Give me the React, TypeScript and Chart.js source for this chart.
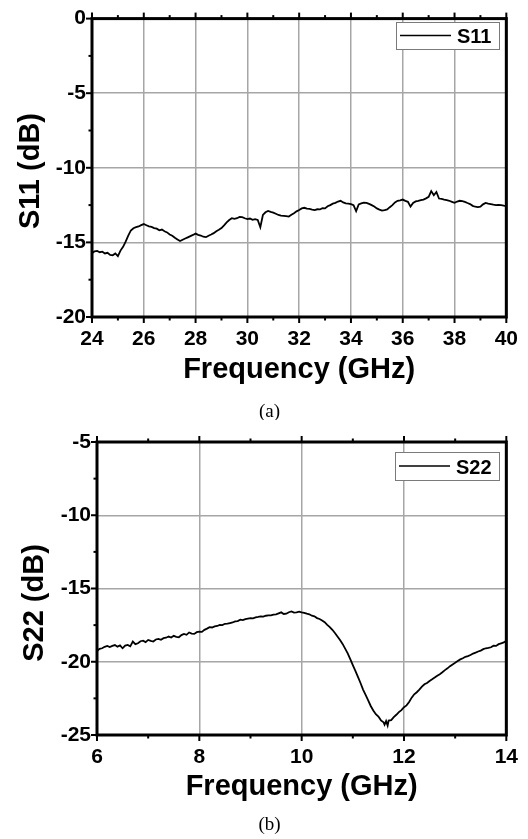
import { useEffect, useRef } from "react";
import { Chart, registerables } from "chart.js";

Chart.register(...registerables);

// ---------- Data: panel (a) S11 ----------
const s11Freq = [
  24.0, 24.1, 24.2, 24.3, 24.4, 24.5, 24.6, 24.7, 24.8, 24.9,
  25.0, 25.1, 25.2, 25.3, 25.4, 25.5, 25.6, 25.7, 25.8, 25.9,
  26.0, 26.1, 26.2, 26.3, 26.4, 26.5, 26.6, 26.7, 26.8, 26.9,
  27.0, 27.1, 27.2, 27.3, 27.4, 27.5, 27.6, 27.7, 27.8, 27.9,
  28.0, 28.1, 28.2, 28.3, 28.4, 28.5, 28.6, 28.7, 28.8, 28.9,
  29.0, 29.1, 29.2, 29.3, 29.4, 29.5, 29.6, 29.7, 29.8, 29.9,
  30.0, 30.1, 30.2, 30.3, 30.4, 30.5, 30.6, 30.7, 30.8, 30.9,
  31.0, 31.1, 31.2, 31.3, 31.4, 31.5, 31.6, 31.7, 31.8, 31.9,
  32.0, 32.1, 32.2, 32.3, 32.4, 32.5, 32.6, 32.7, 32.8, 32.9,
  33.0, 33.1, 33.2, 33.3, 33.4, 33.5, 33.6, 33.7, 33.8, 33.9,
  34.0, 34.1, 34.2, 34.3, 34.4, 34.5, 34.6, 34.7, 34.8, 34.9,
  35.0, 35.1, 35.2, 35.3, 35.4, 35.5, 35.6, 35.7, 35.8, 35.9,
  36.0, 36.1, 36.2, 36.3, 36.4, 36.5, 36.6, 36.7, 36.8, 36.9,
  37.0, 37.1, 37.2, 37.3, 37.4, 37.5, 37.6, 37.7, 37.8, 37.9,
  38.0, 38.1, 38.2, 38.3, 38.4, 38.5, 38.6, 38.7, 38.8, 38.9,
  39.0, 39.1, 39.2, 39.3, 39.4, 39.5, 39.6, 39.7, 39.8, 39.9,
  40.0,
];
const s11Values = [
  -15.72, -15.6, -15.57, -15.66, -15.62, -15.74, -15.7, -15.84, -15.86, -15.74,
  -15.92, -15.55, -15.3, -14.95, -14.55, -14.2, -14.05, -13.98, -13.93, -13.84,
  -13.77, -13.85, -13.93, -13.96, -14.04, -14.08, -14.19, -14.14, -14.25, -14.33,
  -14.47, -14.55, -14.69, -14.8, -14.91, -14.82, -14.74, -14.66, -14.58, -14.5,
  -14.41, -14.49, -14.54, -14.62, -14.65, -14.55, -14.47, -14.38, -14.25, -14.15,
  -14.04, -13.86, -13.66, -13.5, -13.38, -13.42, -13.38, -13.3, -13.31, -13.38,
  -13.44, -13.4, -13.49, -13.44, -13.49, -13.98, -13.16, -12.98, -12.89, -12.95,
  -13.0, -13.08, -13.16, -13.2, -13.22, -13.24, -13.27, -13.15, -13.05, -12.92,
  -12.83, -12.72, -12.68, -12.74, -12.76, -12.8, -12.83, -12.78, -12.79, -12.7,
  -12.72, -12.58, -12.5, -12.4, -12.35, -12.26, -12.21, -12.32, -12.39, -12.4,
  -12.43, -12.5, -12.9, -12.45, -12.39, -12.33, -12.35, -12.42, -12.5, -12.6,
  -12.72, -12.8, -12.87, -12.84, -12.79, -12.64, -12.5, -12.32, -12.21, -12.18,
  -12.13, -12.22, -12.28, -12.6, -12.35, -12.25, -12.21, -12.16, -12.13, -12.05,
  -11.95, -11.56, -11.84, -11.62, -12.06, -12.08, -12.13, -12.17, -12.21, -12.28,
  -12.35, -12.26, -12.21, -12.24, -12.28, -12.36, -12.43, -12.55, -12.61, -12.63,
  -12.61, -12.45, -12.35, -12.4, -12.43, -12.47, -12.5, -12.48, -12.5, -12.54,
  -12.57,
];
const s11XTicks = [24, 26, 28, 30, 32, 34, 36, 38, 40];
const s11XMinor = [25, 27, 29, 31, 33, 35, 37, 39];
const s11YTicks = [-20, -15, -10, -5, 0];
const s11YMinor = [-17.5, -12.5, -7.5, -2.5];

// ---------- Data: panel (b) S22 ----------
const s22Freq = [
  6.0, 6.05, 6.1, 6.15, 6.2, 6.25, 6.3, 6.35, 6.4, 6.45,
  6.5, 6.55, 6.6, 6.65, 6.7, 6.75, 6.8, 6.85, 6.9, 6.95,
  7.0, 7.05, 7.1, 7.15, 7.2, 7.25, 7.3, 7.35, 7.4, 7.45,
  7.5, 7.55, 7.6, 7.65, 7.7, 7.75, 7.8, 7.85, 7.9, 7.95,
  8.0, 8.05, 8.1, 8.15, 8.2, 8.25, 8.3, 8.35, 8.4, 8.45,
  8.5, 8.55, 8.6, 8.65, 8.7, 8.75, 8.8, 8.85, 8.9, 8.95,
  9.0, 9.05, 9.1, 9.15, 9.2, 9.25, 9.3, 9.35, 9.4, 9.45,
  9.5, 9.55, 9.6, 9.65, 9.7, 9.75, 9.8, 9.85, 9.9, 9.95,
  10.0, 10.05, 10.1, 10.15, 10.2, 10.25, 10.3, 10.35, 10.4, 10.45,
  10.5, 10.55, 10.6, 10.65, 10.7, 10.75, 10.8, 10.85, 10.9, 10.95,
  11.0, 11.05, 11.1, 11.15, 11.2, 11.25, 11.3, 11.35, 11.4, 11.45,
  11.5, 11.55, 11.6, 11.62, 11.65, 11.68, 11.7, 11.75, 11.8, 11.85,
  11.9, 11.95, 12.0, 12.05, 12.1, 12.15, 12.2, 12.25, 12.3, 12.35,
  12.4, 12.45, 12.5, 12.55, 12.6, 12.65, 12.7, 12.75, 12.8, 12.85,
  12.9, 12.95, 13.0, 13.05, 13.1, 13.15, 13.2, 13.25, 13.3, 13.35,
  13.4, 13.45, 13.5, 13.55, 13.6, 13.65, 13.7, 13.75, 13.8, 13.85,
  13.9, 13.95, 14.0,
];
const s22Values = [
  -19.27, -19.12, -19.08, -18.98, -18.92, -19.0, -18.92, -18.86, -18.97, -18.88,
  -19.08, -18.9, -18.85, -18.95, -18.62, -18.8, -18.74, -18.6, -18.56, -18.66,
  -18.51, -18.58, -18.62, -18.48, -18.44, -18.5, -18.39, -18.36, -18.28, -18.35,
  -18.23, -18.3, -18.33, -18.18, -18.1, -18.16, -18.0, -18.08, -18.1, -17.98,
  -17.94, -17.96, -17.82, -17.74, -17.64, -17.66, -17.59, -17.56, -17.48, -17.5,
  -17.41, -17.4, -17.36, -17.32, -17.25, -17.22, -17.13, -17.16, -17.09, -17.05,
  -17.02, -17.04, -16.97, -16.94, -16.9, -16.92, -16.86, -16.84, -16.83, -16.78,
  -16.77, -16.7, -16.63, -16.74, -16.72, -16.62, -16.56, -16.64, -16.63, -16.58,
  -16.63, -16.66, -16.72, -16.76, -16.86, -16.9, -17.02, -17.08, -17.18, -17.3,
  -17.48, -17.63, -17.82, -18.04, -18.28, -18.52, -18.78, -19.1, -19.43, -19.82,
  -20.23, -20.62, -21.03, -21.45, -21.9, -22.26, -22.64, -23.02, -23.33, -23.58,
  -23.74, -24.0, -24.13, -24.3, -24.05, -24.36, -24.01, -23.98, -23.78, -23.62,
  -23.44, -23.3, -23.1, -22.98, -22.75, -22.45, -22.22, -22.08, -21.9, -21.7,
  -21.54, -21.45, -21.31, -21.2, -21.08, -20.95, -20.85, -20.72, -20.57, -20.45,
  -20.3, -20.18, -20.07, -19.95, -19.84, -19.76, -19.66, -19.62, -19.54, -19.44,
  -19.38, -19.3, -19.24, -19.14, -19.08, -19.06, -19.01, -18.9, -18.92, -18.8,
  -18.74, -18.68, -18.56,
];
const s22XTicks = [6, 8, 10, 12, 14];
const s22XMinor = [7, 9, 11, 13];
const s22YTicks = [-25, -20, -15, -10, -5];
const s22YMinor = [-22.5, -17.5, -12.5, -7.5];

const xTitle = "Frequency (GHz)";
const s11YTitle = "S11 (dB)";
const s22YTitle = "S22 (dB)";
const captionA = "(a)";
const captionB = "(b)";

const SANS = '"Liberation Sans", Arial, sans-serif';
const SERIF = '"Liberation Serif", "Times New Roman", serif';

const framePlugin = {
  id: "frame",
  afterDraw(chart: any) {
    const o = chart.options.plugins.frame;
    const { ctx } = chart;
    const { left, right, top, bottom } = chart.chartArea;
    const xs = chart.scales.x;
    const ys = chart.scales.y;
    const seg = (x1: number, y1: number, x2: number, y2: number) => {
      ctx.beginPath();
      ctx.moveTo(x1, y1);
      ctx.lineTo(x2, y2);
      ctx.stroke();
    };
    ctx.save();
    ctx.strokeStyle = "#000";
    ctx.lineWidth = 2;
    for (const v of o.xMajor) {
      const p = xs.getPixelForValue(v);
      seg(p, bottom, p, bottom + 6);
      seg(p, top, p, top - 6);
    }
    for (const v of o.xMinor) {
      const p = xs.getPixelForValue(v);
      seg(p, bottom, p, bottom + 3.5);
      seg(p, top, p, top - 3.5);
    }
    for (const v of o.yMajor) {
      const p = ys.getPixelForValue(v);
      seg(left, p, left - 6, p);
    }
    for (const v of o.yMinor) {
      const p = ys.getPixelForValue(v);
      seg(left, p, left - 3.5, p);
    }
    ctx.lineWidth = 3;
    ctx.strokeRect(left, top, right - left, bottom - top);

    // legend
    const lg = o.legend;
    ctx.lineWidth = 1;
    ctx.strokeStyle = "#7a7a7a";
    ctx.fillStyle = "#fff";
    ctx.fillRect(lg.x, lg.y, lg.w, lg.h);
    ctx.strokeRect(lg.x + 0.5, lg.y + 0.5, lg.w, lg.h);
    ctx.strokeStyle = "#000";
    ctx.lineWidth = 1.5;
    const ly = lg.y + lg.h / 2;
    seg(lg.x + 4, ly, lg.x + 55, ly);
    ctx.fillStyle = "#000";
    ctx.font = `bold 20px ${SANS}`;
    ctx.textAlign = "left";
    ctx.textBaseline = "alphabetic";
    ctx.fillText(chart.data.datasets[0].label, lg.x + 61, ly + 7.5);

    // axis titles
    ctx.font = `bold 29px ${SANS}`;
    ctx.textAlign = "center";
    ctx.fillText(o.xTitle, (left + right) / 2, o.xTitleBase);
    ctx.save();
    ctx.translate(o.yTitleBase, o.yTitleCenter);
    ctx.rotate(-Math.PI / 2);
    ctx.fillText(o.yTitle, 0, 0);
    ctx.restore();

    // caption
    ctx.font = `19px ${SERIF}`;
    ctx.fillText(o.caption, 269.5, o.captionBase);
    ctx.restore();
  },
};

type Panel = {
  freq: number[];
  values: number[];
  label: string;
  xMin: number;
  xMax: number;
  yMin: number;
  yMax: number;
  xTicks: number[];
  xMinor: number[];
  yTicks: number[];
  yMinor: number[];
  height: number;
  area: { left: number; top: number; right: number; bottom: number };
  yTitle: string;
  caption: string;
  xTitleBase: number;
  yTitleBase: number;
  yTitleCenter: number;
  captionBase: number;
  legend: { x: number; y: number; w: number; h: number };
};

function ChartPanel({ p }: { p: Panel }) {
  const ref = useRef<HTMLCanvasElement>(null);
  useEffect(() => {
    if (!ref.current) return;
    const font = { family: SANS, size: 21, weight: "bold" as const };
    const chart = new Chart(ref.current, {
      type: "line",
      data: {
        datasets: [
          {
            label: p.label,
            data: p.freq.map((f, i) => ({ x: f, y: p.values[i] })),
            borderColor: "#000",
            borderWidth: 1.8,
            pointRadius: 0,
            tension: 0,
            fill: false,
          },
        ],
      },
      options: {
        animation: false,
        responsive: false,
        maintainAspectRatio: false,
        devicePixelRatio: 1,
        layout: {
          padding: { top: p.area.top, right: 528 - p.area.right, left: 0, bottom: 0 },
        },
        plugins: {
          legend: { display: false },
          tooltip: { enabled: false },
          frame: {
            xMajor: p.xTicks,
            xMinor: p.xMinor,
            yMajor: p.yTicks,
            yMinor: p.yMinor,
            legend: p.legend,
            xTitle,
            yTitle: p.yTitle,
            caption: p.caption,
            xTitleBase: p.xTitleBase,
            yTitleBase: p.yTitleBase,
            yTitleCenter: p.yTitleCenter,
            captionBase: p.captionBase,
          },
        } as any,
        scales: {
          x: {
            type: "linear",
            min: p.xMin,
            max: p.xMax,
            afterBuildTicks: (s: any) => {
              s.ticks = p.xTicks.map((v) => ({ value: v }));
            },
            afterFit: (s: any) => {
              s.height = p.height - p.area.bottom;
            },
            grid: { color: "#a6a6a6", lineWidth: 1.5, drawTicks: false },
            border: { display: false },
            ticks: { color: "#000", font, padding: 10, maxRotation: 0, autoSkip: false },
          },
          y: {
            type: "linear",
            min: p.yMin,
            max: p.yMax,
            afterBuildTicks: (s: any) => {
              s.ticks = p.yTicks.map((v) => ({ value: v }));
            },
            afterFit: (s: any) => {
              s.width = p.area.left;
            },
            grid: { color: "#a6a6a6", lineWidth: 1.5, drawTicks: false },
            border: { display: false },
            ticks: { color: "#000", font, padding: 6, autoSkip: false },
          },
        },
      },
      plugins: [framePlugin as any],
    });
    return () => chart.destroy();
  }, [p]);
  return <canvas ref={ref} width={528} height={p.height} style={{ display: "block" }} />;
}

const panelA: Panel = {
  freq: s11Freq,
  values: s11Values,
  label: "S11",
  xMin: 24,
  xMax: 40,
  yMin: -20,
  yMax: 0,
  xTicks: s11XTicks,
  xMinor: s11XMinor,
  yTicks: s11YTicks,
  yMinor: s11YMinor,
  height: 420,
  area: { left: 92, top: 13, right: 508, bottom: 317 },
  yTitle: s11YTitle,
  caption: captionA,
  xTitleBase: 378,
  yTitleBase: 39,
  yTitleCenter: 171,
  captionBase: 417,
  legend: { x: 396, y: 22, w: 103, h: 27 },
};

const panelB: Panel = {
  freq: s22Freq,
  values: s22Values,
  label: "S22",
  xMin: 6,
  xMax: 14,
  yMin: -25,
  yMax: -5,
  xTicks: s22XTicks,
  xMinor: s22XMinor,
  yTicks: s22YTicks,
  yMinor: s22YMinor,
  height: 419,
  area: { left: 97, top: 22, right: 507, bottom: 315 },
  yTitle: s22YTitle,
  caption: captionB,
  xTitleBase: 375,
  yTitleBase: 43,
  yTitleCenter: 183,
  captionBase: 410,
  legend: { x: 395, y: 32, w: 104, h: 28 },
};

export default function App() {
  useEffect(() => {
    document.body.style.margin = "0";
    document.body.style.background = "#fff";
  }, []);
  return (
    <div style={{ width: 528, height: 839, background: "#fff" }}>
      <ChartPanel p={panelA} />
      <ChartPanel p={panelB} />
    </div>
  );
}
